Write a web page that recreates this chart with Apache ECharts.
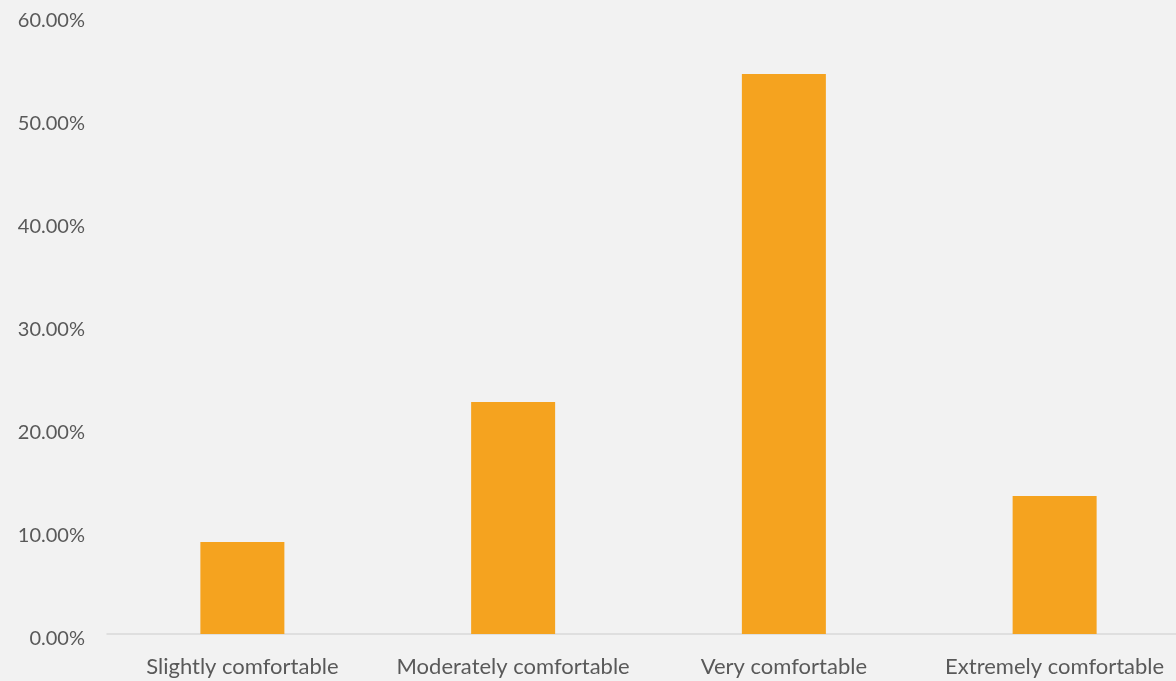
<!DOCTYPE html>
<html>
<head>
<meta charset="utf-8">
<script src="https://cdn.jsdelivr.net/npm/echarts@6/dist/echarts.min.js"></script>
<style>
html,body{margin:0;padding:0;background:#f2f2f2;overflow:hidden;width:1176px;height:681px;}
#c{width:1190px;height:681px;}
</style>
</head>
<body>
<div id="c"></div>
<script>
const categories = ["Slightly comfortable", "Moderately comfortable", "Very comfortable", "Extremely comfortable"];
const values = [0.0893, 0.2252, 0.5437, 0.1340];
const yTicks = [0, 0.1, 0.2, 0.3, 0.4, 0.5, 0.6];

const chart = echarts.init(document.getElementById('c'));
chart.setOption({
  backgroundColor: '#f2f2f2',
  animation: false,
  grid: { left: 107, top: 16, bottom: 47, right: 0 },
  xAxis: {
    type: 'category',
    data: categories,
    axisLine: { lineStyle: { color: '#d9d9d9', width: 1.5 } },
    axisTick: { show: false },
    axisLabel: { color: '#595959', fontFamily: 'Lato', fontSize: 22, margin: 22, interval: 0 }
  },
  yAxis: {
    type: 'value',
    min: yTicks[0],
    max: yTicks[yTicks.length - 1],
    interval: 0.1,
    splitLine: { show: false },
    axisLine: { show: false },
    axisTick: { show: false },
    axisLabel: { color: '#595959', fontFamily: 'Lato', fontSize: 20, margin: 22,
      formatter: v => '{a|' + (v * 100).toFixed(2) + '%}',
      rich: { a: { color: '#595959', fontFamily: 'Lato', fontSize: 20, padding: [10, 0, 0, 0] } } }
  },
  series: [{
    type: 'bar',
    data: values,
    barWidth: 84,
    itemStyle: { color: '#f5a31f' }
  }]
});
</script>
</body>
</html>
